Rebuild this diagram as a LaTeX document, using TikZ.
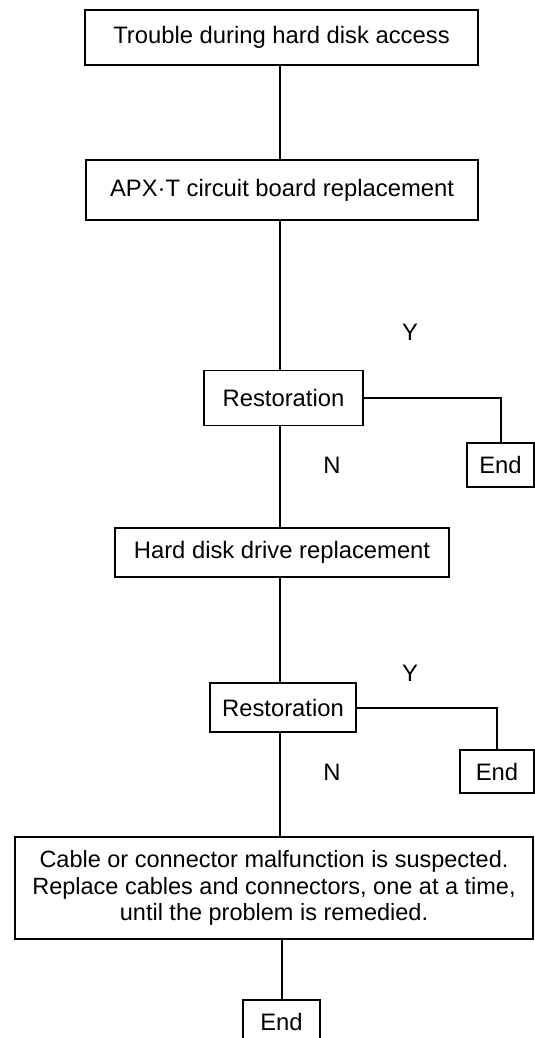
\documentclass[tikz,border=0pt]{standalone}
\usepackage{fontspec}
\setmainfont{Liberation Sans}
\begin{document}
\begin{tikzpicture}[x=1pt,y=-1pt,
  box/.style={draw,line width=1.8pt,rectangle,inner sep=0pt,align=center,
    font=\fontsize{23.8}{26.5}\selectfont},
  lbl/.style={inner sep=0pt,font=\fontsize{23.8}{26.5}\selectfont},
  conn/.style={line width=2pt}]
\useasboundingbox (0,0) rectangle (535,1038);
\coordinate (sp) at (280,0);
\node[box,minimum width=393pt,minimum height=55pt] (b1) at (281.5,37.5) {Trouble during hard disk access};
\node[box,minimum width=392pt,minimum height=60pt] (b2) at (282,190) {APX\textperiodcentered T circuit board replacement};
\node[box,minimum width=159pt,minimum height=55pt] (r1) at (283.5,398) {Restoration};
\node[box,minimum width=67pt,minimum height=44pt] (e1) at (500.5,465) {End};
\node[box,minimum width=334pt,minimum height=49pt] (b3) at (282,552.5) {Hard disk drive replacement};
\node[box,minimum width=146pt,minimum height=49pt] (r2) at (283,707.5) {Restoration};
\node[box,minimum width=74pt,minimum height=43pt] (e2) at (497,771.5) {End};
\node[box,minimum width=518pt,minimum height=102pt,font=\fontsize{23.5}{26.5}\selectfont] (b4) at (274,888) {Cable or connector malfunction is suspected.\\Replace cables and connectors, one at a time,\\until the problem is remedied.};
\node[box,minimum width=77pt,minimum height=44pt] (e3) at (281.5,1022) {End};
\node[lbl] (y1) at (410,332) {Y};
\node[lbl] (n1) at (332,465) {N};
\node[lbl] (y2) at (410,673) {Y};
\node[lbl] (n2) at (332,772) {N};
\draw[conn] (b1.south -| sp) -- (b2.north -| sp);
\draw[conn] (b2.south -| sp) -- (r1.north -| sp);
\draw[conn] (r1.south -| sp) -- (b3.north -| sp);
\draw[conn] (b3.south -| sp) -- (r2.north -| sp);
\draw[conn] (r2.south -| sp) -- (b4.north -| sp);
\draw[conn] (b4.south -| e3.north) -- (e3.north);
\draw[conn] (r1.east) -| (e1.north);
\draw[conn] (r2.east) -| (e2.north);
\end{tikzpicture}
\end{document}
